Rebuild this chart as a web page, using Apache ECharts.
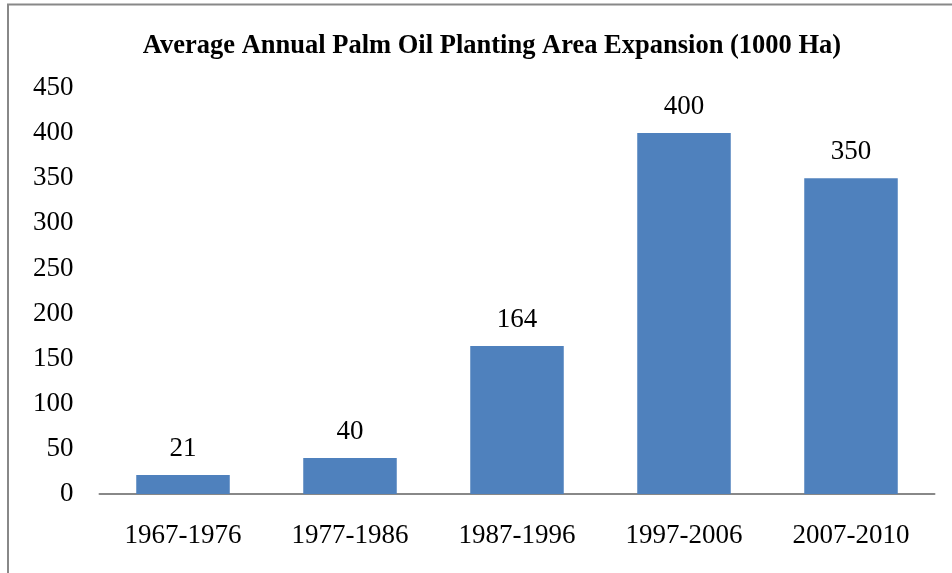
<!DOCTYPE html>
<html><head><meta charset="utf-8">
<script src="https://cdn.jsdelivr.net/npm/echarts@6/dist/echarts.min.js"></script>
<style>html,body{margin:0;padding:0;background:#fff}#c{width:952px;height:573px}</style>
</head><body><div id="c"></div>
<script>
const categories = ['1967-1976','1977-1986','1987-1996','1997-2006','2007-2010'];
const values = [21, 40, 164, 400, 350];
const titleText = 'Average Annual Palm Oil Planting Area Expansion (1000 Ha)';

const chart = echarts.init(document.getElementById('c'));
const serif = '"Liberation Serif", "Times New Roman", serif';
chart.setOption({
  backgroundColor: '#fff',
  animation: false,
  graphic: [
    {type:'line', shape:{x1:7, y1:4.5, x2:952, y2:4.5}, style:{stroke:'#888', lineWidth:2}},
    {type:'line', shape:{x1:8, y1:4, x2:8, y2:573}, style:{stroke:'#888', lineWidth:2}}
  ],
  title: {
    text: titleText, left: 487, textAlign: 'center', top: 28,
    textStyle: {fontFamily: serif, fontWeight: 'bold', fontSize: 26.5, color: '#000'}
  },
  grid: {left: 99.5, right: 17.5, top: 88, bottom: 79, containLabel: false},
  xAxis: {
    type: 'category', data: categories,
    axisLine: {lineStyle: {color: '#888', width: 2}},
    axisTick: {show: false},
    axisLabel: {fontFamily: serif, fontSize: 27, color: '#000', margin: 28}
  },
  yAxis: {
    type: 'value', min: 0, max: 450, interval: 50,
    splitLine: {show: false},
    axisLine: {show: false}, axisTick: {show: false},
    axisLabel: {fontFamily: serif, fontSize: 27, color: '#000', margin: 26}
  },
  series: [{
    type: 'bar', data: values, barCategoryGap: '44%',
    itemStyle: {color: '#4F81BD'},
    label: {show: true, position: 'top', distance: 13, fontFamily: serif, fontSize: 27, color: '#000'}
  }]
});
</script></body></html>
